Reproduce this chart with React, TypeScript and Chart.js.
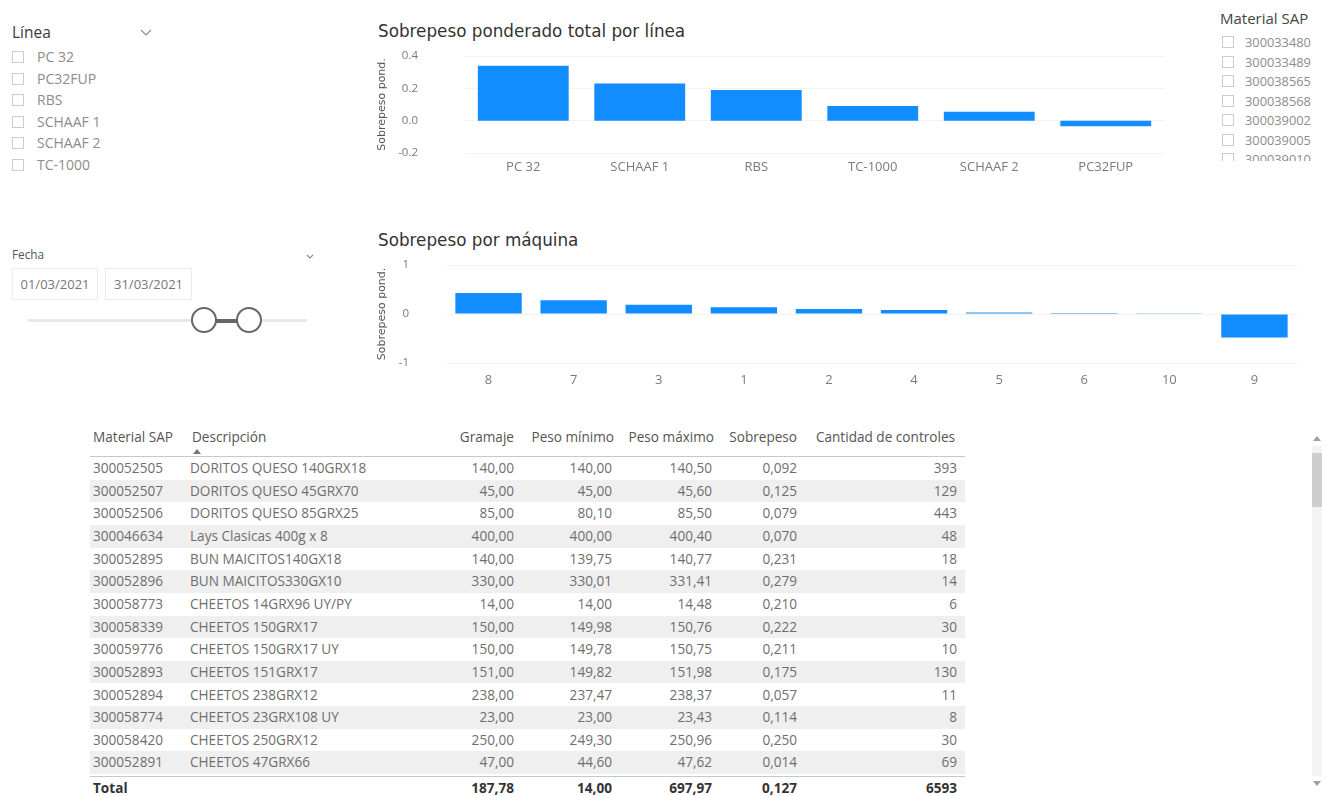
import React, { useEffect, useRef } from "react";
import { Chart, registerables } from "chart.js";

Chart.register(...registerables);

// ---- chart data ----
const lineCategories = ["PC 32", "SCHAAF 1", "RBS", "TC-1000", "SCHAAF 2", "PC32FUP"];
const lineValues = [0.34, 0.23, 0.19, 0.09, 0.055, -0.035];

const machineCategories = ["8", "7", "3", "1", "2", "4", "5", "6", "10", "9"];
const machineValues = [0.43, 0.28, 0.19, 0.14, 0.1, 0.08, 0.03, 0.02, 0.015, -0.48];

// ---- slicer data ----
const lineOptions = ["PC 32", "PC32FUP", "RBS", "SCHAAF 1", "SCHAAF 2", "TC-1000"];
const materialOptions = ["300033480", "300033489", "300038565", "300038568", "300039002", "300039005", "300039010"];
const dateRange = ["01/03/2021", "31/03/2021"];

// ---- table data ----
const tableHeaders = ["Material SAP", "Descripción", "Gramaje", "Peso mínimo", "Peso máximo", "Sobrepeso", "Cantidad de controles"];
const materials = ["300052505", "300052507", "300052506", "300046634", "300052895", "300052896", "300058773", "300058339", "300059776", "300052893", "300052894", "300058774", "300058420", "300052891"];
const descriptions = ["DORITOS QUESO 140GRX18", "DORITOS QUESO 45GRX70", "DORITOS QUESO 85GRX25", "Lays Clasicas 400g x 8", "BUN MAICITOS140GX18", "BUN MAICITOS330GX10", "CHEETOS 14GRX96 UY/PY", "CHEETOS 150GRX17", "CHEETOS 150GRX17 UY", "CHEETOS 151GRX17", "CHEETOS 238GRX12", "CHEETOS 23GRX108 UY", "CHEETOS 250GRX12", "CHEETOS 47GRX66"];
const gramaje = [140, 45, 85, 400, 140, 330, 14, 150, 150, 151, 238, 23, 250, 47];
const pesoMinimo = [140.0, 45.0, 80.1, 400.0, 139.75, 330.01, 14.0, 149.98, 149.78, 149.82, 237.47, 23.0, 249.3, 44.6];
const pesoMaximo = [140.5, 45.6, 85.5, 400.4, 140.77, 331.41, 14.48, 150.76, 150.75, 151.98, 238.37, 23.43, 250.96, 47.62];
const sobrepeso = [0.092, 0.125, 0.079, 0.07, 0.231, 0.279, 0.21, 0.222, 0.211, 0.175, 0.057, 0.114, 0.25, 0.014];
const controles = [393, 129, 443, 48, 18, 14, 6, 30, 10, 130, 11, 8, 30, 69];
const totals = { gramaje: 187.78, pesoMinimo: 14.0, pesoMaximo: 697.97, sobrepeso: 0.127, controles: 6593 };

const BAR_BLUE = "#118DFF";
const UI_FONT = "'Open Sans', 'Noto Sans', sans-serif";
const TITLE_FONT = "'DejaVu Sans', sans-serif";

const dec = (v: number, n: number) => v.toFixed(n).replace(".", ",");

type Box = { left: number; top: number; width: number; height: number };
type BarProps = {
  labels: string[];
  values: number[];
  min: number;
  max: number;
  step: number;
  fmt: (v: number) => string;
  box: Box;
  axisWidth: number;
  labelGap: number;
  xAxisHeight: number;
  xLabelGap: number;
  padTop: number;
  padRight: number;
  barPct: number;
};

function BarChart(p: BarProps) {
  const ref = useRef<HTMLCanvasElement>(null);
  useEffect(() => {
    const chart = new Chart(ref.current as HTMLCanvasElement, {
      type: "bar",
      data: {
        labels: p.labels,
        datasets: [
          {
            data: p.values,
            backgroundColor: BAR_BLUE,
            borderWidth: 0,
            barPercentage: p.barPct,
            categoryPercentage: 1,
          },
        ],
      },
      options: {
        animation: false,
        responsive: false,
        maintainAspectRatio: false,
        layout: { padding: { left: 0, right: p.padRight, top: p.padTop, bottom: 0 } },
        plugins: { legend: { display: false }, tooltip: { enabled: false } },
        scales: {
          x: {
            grid: { display: false, drawTicks: false },
            border: { display: false },
            ticks: {
              color: "#7a7a7a",
              font: { family: UI_FONT, size: 13 },
              padding: p.xLabelGap,
              maxRotation: 0,
              autoSkip: false,
            },
            afterFit: (s: any) => {
              s.height = p.xAxisHeight;
            },
          },
          y: {
            min: p.min,
            max: p.max,
            grid: { color: "#f3f3f3", drawTicks: false },
            border: { display: false },
            ticks: {
              stepSize: p.step,
              callback: (v: any) => p.fmt(Number(v)),
              color: "#7a7a7a",
              font: { family: UI_FONT, size: 11.5 },
              padding: p.labelGap,
            },
            title: {
              display: true,
              text: "Sobrepeso pond.",
              color: "#555555",
              font: { family: TITLE_FONT, size: 11 },
              padding: { top: 6, bottom: 0 },
            },
            afterFit: (s: any) => {
              // the wide label gap should only push labels sideways, not shrink the plot vertically
              s.width = p.axisWidth;
              s.paddingTop = 0;
              s.paddingBottom = 0;
            },
          },
        },
      },
    } as any);
    return () => chart.destroy();
  }, []);
  return (
    <canvas
      ref={ref}
      width={p.box.width}
      height={p.box.height}
      style={{ position: "absolute", left: p.box.left, top: p.box.top, width: p.box.width, height: p.box.height }}
    />
  );
}

function Chevron({ left, top, w = 12 }: { left: number; top: number; w?: number }) {
  const h = w / 2 + 1;
  return (
    <svg width={w} height={h} style={{ position: "absolute", left, top }}>
      <polyline points={`1,1 ${w / 2},${h - 1} ${w - 1},1`} fill="none" stroke="#8a8a8a" strokeWidth={1.1} />
    </svg>
  );
}

function CheckRow({ left, cy, label, textLeft, size }: { left: number; cy: number; label: string; textLeft: number; size: number }) {
  return (
    <>
      <div
        style={{
          position: "absolute",
          left,
          top: cy - 6,
          width: 12,
          height: 12,
          border: "1px solid #cccccc",
          boxSizing: "border-box",
        }}
      />
      <div
        style={{
          position: "absolute",
          left: textLeft,
          top: cy - 10,
          height: 20,
          lineHeight: "20px",
          fontSize: size,
          color: "#8c8c8c",
          whiteSpace: "nowrap",
        }}
      >
        {label}
      </div>
    </>
  );
}

const txt = (extra: React.CSSProperties): React.CSSProperties => ({
  position: "absolute",
  whiteSpace: "nowrap",
  ...extra,
});

export default function App() {
  const ROW_TOP = 457;
  const ROW_H = 22.65;
  const TABLE_L = 90;
  const TABLE_R = 965;
  const CELL_FONT = 13.6;
  const numCols = [
    { right: 514, values: gramaje.map((v) => dec(v, 2)), total: dec(totals.gramaje, 2) },
    { right: 612, values: pesoMinimo.map((v) => dec(v, 2)), total: dec(totals.pesoMinimo, 2) },
    { right: 712, values: pesoMaximo.map((v) => dec(v, 2)), total: dec(totals.pesoMaximo, 2) },
    { right: 797, values: sobrepeso.map((v) => dec(v, 3)), total: dec(totals.sobrepeso, 3) },
    { right: 957, values: controles.map((v) => String(v)), total: String(totals.controles) },
  ];
  const headerRights = [514, 614, 714, 797, 955];

  return (
    <div
      style={{
        position: "fixed",
        left: 0,
        top: 0,
        width: 1327,
        height: 796,
        background: "#ffffff",
        overflow: "hidden",
        fontFamily: UI_FONT,
      }}
    >
      {/* Línea slicer */}
      <div style={txt({ left: 12, top: 21, fontSize: 15.5, color: "#3a3a3a", lineHeight: "22px" })}>Línea</div>
      <Chevron left={140} top={29} />
      {lineOptions.map((o, i) => (
        <CheckRow key={o} left={12} cy={57 + i * 21.6} label={o} textLeft={37} size={14} />
      ))}

      {/* Material SAP slicer */}
      <div style={txt({ left: 1220, top: 7, fontSize: 15, color: "#444444", lineHeight: "22px" })}>Material SAP</div>
      <div style={{ position: "absolute", left: 1215, top: 30, width: 112, height: 131, overflow: "hidden" }}>
        {materialOptions.map((o, i) => (
          <CheckRow key={o} left={7} cy={42 - 30 + i * 19.5} label={o} textLeft={30} size={12.8} />
        ))}
      </div>

      {/* Fecha slicer */}
      <div style={txt({ left: 12, top: 246, fontSize: 11.8, color: "#555555", lineHeight: "16px" })}>Fecha</div>
      <Chevron left={306} top={254} w={8} />
      {dateRange.map((d, i) => (
        <div
          key={d}
          style={{
            position: "absolute",
            left: i === 0 ? 12 : 105,
            top: 268,
            width: i === 0 ? 86 : 87,
            height: 32,
            border: "1px solid #ececec",
            boxSizing: "border-box",
            fontSize: 13,
            color: "#777777",
            lineHeight: "30px",
            textAlign: "center",
          }}
        >
          {d}
        </div>
      ))}
      <div style={{ position: "absolute", left: 28, top: 319, width: 279, height: 3, background: "#e8e8e8" }} />
      <div style={{ position: "absolute", left: 216, top: 318.5, width: 21, height: 4, background: "#666666" }} />
      {[204, 249].map((cx) => (
        <div
          key={cx}
          style={{
            position: "absolute",
            left: cx - 13,
            top: 320 - 13,
            width: 26,
            height: 26,
            borderRadius: "50%",
            border: "2px solid #666666",
            background: "#ffffff",
            boxSizing: "border-box",
          }}
        />
      ))}

      {/* Chart: total weighted overweight by line */}
      <div style={txt({ left: 378, top: 19, fontSize: 16.8, color: "#333333", fontFamily: TITLE_FONT, lineHeight: "24px" })}>
        Sobrepeso ponderado total por línea
      </div>
      <BarChart
        labels={lineCategories}
        values={lineValues}
        min={-0.2}
        max={0.4}
        step={0.2}
        fmt={(v) => v.toFixed(1)}
        box={{ left: 370, top: 40, width: 850, height: 145 }}
        axisWidth={95}
        labelGap={47}
        xAxisHeight={32}
        xLabelGap={6}
        padTop={16}
        padRight={56}
        barPct={0.78}
      />

      {/* Chart: overweight by machine */}
      <div style={txt({ left: 378, top: 228, fontSize: 16.8, color: "#333333", fontFamily: TITLE_FONT, lineHeight: "24px" })}>
        Sobrepeso por máquina
      </div>
      <BarChart
        labels={machineCategories}
        values={machineValues}
        min={-1}
        max={1}
        step={1}
        fmt={(v) => String(Math.round(v))}
        box={{ left: 370, top: 252, width: 940, height: 140 }}
        axisWidth={76}
        labelGap={37}
        xAxisHeight={29}
        xLabelGap={9}
        padTop={13}
        padRight={13}
        barPct={0.78}
      />

      {/* Table */}
      {tableHeaders.map((h, i) => {
        const style: React.CSSProperties =
          i === 0
            ? { left: 93 }
            : i === 1
            ? { left: 192 }
            : { left: headerRights[i - 2] - 250, width: 250, textAlign: "right" };
        return (
          <div key={h} style={txt({ ...style, top: 427, fontSize: CELL_FONT, color: "#555555", lineHeight: "20px" })}>
            {h}
          </div>
        );
      })}
      <svg width={8} height={5} style={{ position: "absolute", left: 193, top: 449 }}>
        <polygon points="0,5 4,0 8,5" fill="#777777" />
      </svg>
      <div style={{ position: "absolute", left: TABLE_L, top: ROW_TOP - 1, width: TABLE_R - TABLE_L, height: 1, background: "#b9cbdc" }} />

      {materials.map((m, r) => {
        const top = ROW_TOP + r * ROW_H;
        const rowText: React.CSSProperties = { top, height: ROW_H, lineHeight: `${ROW_H}px`, fontSize: CELL_FONT, color: "#6e6e6e" };
        return (
          <React.Fragment key={m + r}>
            {r % 2 === 1 && (
              <div style={{ position: "absolute", left: TABLE_L, top, width: TABLE_R - TABLE_L, height: ROW_H, background: "#efefef" }} />
            )}
            <div style={txt({ ...rowText, left: 93 })}>{m}</div>
            <div style={txt({ ...rowText, left: 190 })}>{descriptions[r]}</div>
            {numCols.map((c, ci) => (
              <div key={ci} style={txt({ ...rowText, left: c.right - 150, width: 150, textAlign: "right" })}>
                {c.values[r]}
              </div>
            ))}
          </React.Fragment>
        );
      })}
      <div style={{ position: "absolute", left: TABLE_L, top: 776, width: TABLE_R - TABLE_L, height: 1, background: "#b9cbdc" }} />
      <div style={txt({ left: 93, top: 778, lineHeight: "20px", fontSize: CELL_FONT, fontWeight: 700, color: "#333333" })}>Total</div>
      {numCols.map((c, ci) => (
        <div
          key={ci}
          style={txt({ left: c.right - 150, width: 150, textAlign: "right", top: 778, lineHeight: "20px", fontSize: CELL_FONT, fontWeight: 700, color: "#333333" })}
        >
          {c.total}
        </div>
      ))}

      {/* Table scrollbar */}
      <div style={{ position: "absolute", left: 1312, top: 446, width: 10, height: 330, background: "#f3f3f3" }} />
      <div style={{ position: "absolute", left: 1312, top: 453, width: 10, height: 54, background: "#cdcdcd" }} />
      <svg width={8} height={5} style={{ position: "absolute", left: 1313, top: 436 }}>
        <polygon points="0,5 4,0 8,5" fill="#a0a0a0" />
      </svg>
      <svg width={8} height={5} style={{ position: "absolute", left: 1313, top: 781 }}>
        <polygon points="0,0 8,0 4,5" fill="#a0a0a0" />
      </svg>
    </div>
  );
}
